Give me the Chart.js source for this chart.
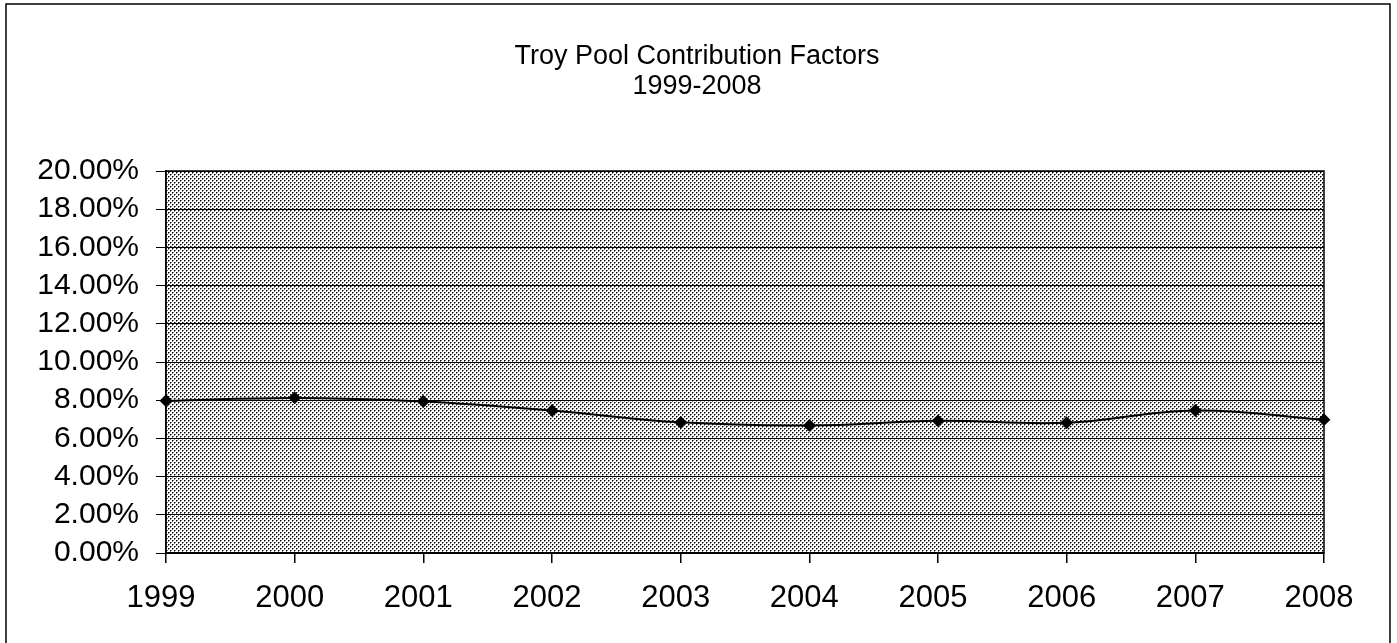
<!DOCTYPE html>
<html>
<head>
<meta charset="utf-8">
<script src="https://cdn.jsdelivr.net/npm/chart.js@4/dist/chart.umd.min.js"></script>
<style>
html,body{margin:0;padding:0;background:#fff;}
#wrap{width:1397px;height:643px;position:relative;}
canvas{display:block;}
</style>
</head>
<body>
<div id="wrap"><canvas id="c" width="1397" height="643"></canvas></div>
<script>
const titleLines = ["Troy Pool Contribution Factors", "1999-2008"];
const years = ["1999","2000","2001","2002","2003","2004","2005","2006","2007","2008"];
const contribution = [7.97, 8.12, 7.93, 7.46, 6.84, 6.68, 6.92, 6.82, 7.46, 6.98];
const yTicks = [0, 2, 4, 6, 8, 10, 12, 14, 16, 18, 20];

// dotted background pattern
const tile = document.createElement('canvas');
tile.width = 4; tile.height = 4;
const tctx = tile.getContext('2d');
tctx.fillStyle = '#ffffff'; tctx.fillRect(0,0,4,4);
tctx.fillStyle = '#000000'; tctx.fillRect(0,0,1,1); tctx.fillRect(2,2,1,1);
tctx.fillStyle = '#777777'; tctx.fillRect(1,0,1,1); tctx.fillRect(3,2,1,1); tctx.fillRect(0,1,1,1); tctx.fillRect(2,3,1,1);

const frameAndBg = {
  id: 'frameAndBg',
  beforeDraw(chart) {
    const ctx = chart.ctx;
    const a = chart.chartArea;
    ctx.save();
    ctx.fillStyle = '#ffffff';
    ctx.fillRect(0,0,chart.width,chart.height);
    ctx.fillStyle = ctx.createPattern(tile, 'repeat');
    ctx.fillRect(a.left, a.top, a.right - a.left, a.bottom - a.top);
    // outer frame
    ctx.strokeStyle = '#000';
    ctx.lineWidth = 1.5;
    ctx.beginPath();
    ctx.moveTo(6, 643); ctx.lineTo(6, 4); ctx.lineTo(1390, 4); ctx.lineTo(1390, 643);
    ctx.stroke();
    // title
    ctx.fillStyle = '#000';
    ctx.font = '27px "Liberation Sans", Arial, sans-serif';
    ctx.textAlign = 'center';
    ctx.textBaseline = 'middle';
    ctx.fillText(titleLines[0], 697, 57);
    ctx.fillText(titleLines[1], 697, 87);
    ctx.restore();
  },
  afterDatasetsDraw(chart) {
    const ctx = chart.ctx;
    const a = chart.chartArea;
    ctx.save();
    ctx.strokeStyle = '#000';
    ctx.lineWidth = 1.5;
    ctx.strokeRect(a.left, a.top, a.right - a.left, a.bottom - a.top);
    ctx.restore();
  }
};

new Chart(document.getElementById('c'), {
  type: 'line',
  data: {
    labels: years,
    datasets: [{
      data: contribution,
      borderColor: '#000',
      borderWidth: 2,
      backgroundColor: '#000',
      pointStyle: 'rectRot',
      pointRadius: 5,
      pointBackgroundColor: '#000',
      pointBorderColor: '#000',
      tension: 0.4,
      cubicInterpolationMode: 'default',
      fill: false
    }]
  },
  options: {
    responsive: false,
    animation: false,
    devicePixelRatio: 1,
    layout: { padding: { left: 0, right: 73, top: 171, bottom: 0 } },
    plugins: { legend: { display: false }, title: { display: false }, tooltip: { enabled: false } },
    scales: {
      x: {
        type: 'category',
        offset: false,
        border: { display: true, color: '#000', width: 1.5 },
        grid: { display: true, drawOnChartArea: false, drawTicks: true, tickLength: 10, color: '#000', lineWidth: 1.5 },
        ticks: { color: '#000', font: { family: '"Liberation Sans", Arial, sans-serif', size: 31 }, padding: 17, labelOffset: -5, maxRotation: 0, autoSkip: false },
        afterFit(scale) { scale.height = 90; }
      },
      y: {
        min: 0, max: 20,
        border: { display: true, color: '#000', width: 1.5 },
        grid: { display: true, drawOnChartArea: true, drawTicks: true, tickLength: 10, color: '#000', lineWidth: 1 },
        afterBuildTicks(scale) { scale.ticks = yTicks.map(v => ({ value: v })); },
        ticks: {
          color: '#000',
          autoSkip: false,
          font: { family: '"Liberation Sans", Arial, sans-serif', size: 30 },
          padding: 17,
          callback: (v) => v.toFixed(2) + '%'
        },
        afterFit(scale) { scale.width = 166; }
      }
    }
  },
  plugins: [frameAndBg]
});
</script>
</body>
</html>
